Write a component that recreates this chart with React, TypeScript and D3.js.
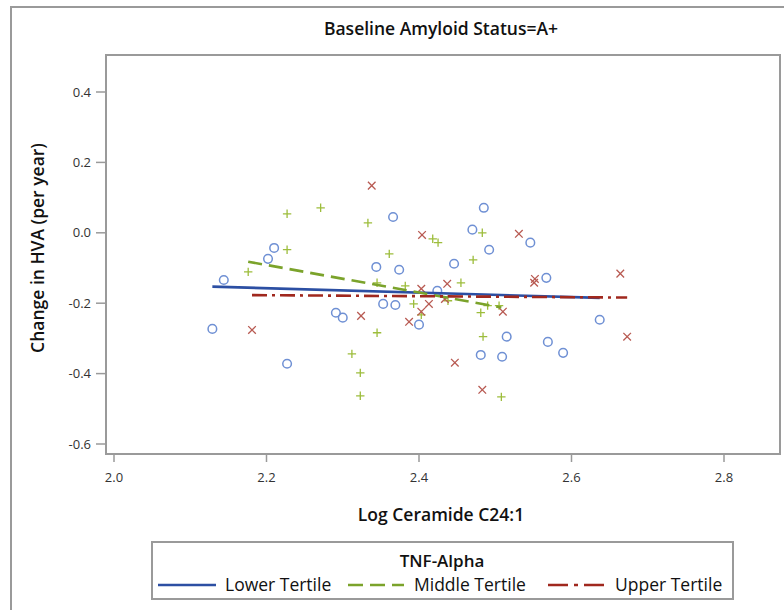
import React from "react";
import * as d3 from "d3";

// ---- Data ----
const lowerX = [2.129, 2.144, 2.202, 2.210, 2.227, 2.291, 2.300, 2.344, 2.353, 2.366, 2.369, 2.374, 2.400, 2.424, 2.446, 2.470, 2.481, 2.485, 2.492, 2.509, 2.515, 2.546, 2.567, 2.569, 2.589, 2.637];
const lowerY = [-0.273, -0.134, -0.074, -0.043, -0.372, -0.227, -0.241, -0.097, -0.202, 0.045, -0.205, -0.105, -0.261, -0.165, -0.088, 0.009, -0.347, 0.071, -0.048, -0.352, -0.295, -0.028, -0.128, -0.310, -0.341, -0.247];

const middleX = [2.176, 2.227, 2.227, 2.271, 2.333, 2.361, 2.345, 2.382, 2.393, 2.403, 2.418, 2.425, 2.345, 2.312, 2.323, 2.323, 2.455, 2.471, 2.483, 2.490, 2.505, 2.481, 2.484, 2.508, 2.438];
const middleY = [-0.111, 0.054, -0.048, 0.071, 0.028, -0.060, -0.142, -0.151, -0.202, -0.233, -0.017, -0.028, -0.284, -0.344, -0.398, -0.463, -0.142, -0.077, 0.000, -0.207, -0.207, -0.227, -0.295, -0.466, -0.193];

const upperX = [2.181, 2.338, 2.404, 2.403, 2.437, 2.434, 2.413, 2.403, 2.324, 2.387, 2.447, 2.483, 2.510, 2.531, 2.552, 2.551, 2.664, 2.673];
const upperY = [-0.276, 0.134, -0.006, -0.159, -0.145, -0.188, -0.202, -0.224, -0.236, -0.253, -0.369, -0.446, -0.224, -0.003, -0.131, -0.142, -0.116, -0.295];

// fitted lines: value at the smallest and largest x of each group
const fitStartY = [-0.153, -0.082, -0.177];
const fitEndY = [-0.185, -0.212, -0.184];

const seriesNames = ["Lower Tertile", "Middle Tertile", "Upper Tertile"];
const xTicks = [2.0, 2.2, 2.4, 2.6, 2.8];
const yTicks = [-0.6, -0.4, -0.2, 0.0, 0.2, 0.4];

const titleText = "Baseline Amyloid Status=A+";
const xLabel = "Log Ceramide C24:1";
const yLabel = "Change in HVA (per year)";
const legendTitle = "TNF-Alpha";

// ---- Styles ----
const lineColors = ["#2C4FA3", "#7BA32B", "#A0281E"];
const markColors = ["#6F90D4", "#9DBD3C", "#B85A52"];
const dashes = [null, "14,7", "15,5,3,5"];
const legendDashes = [null, "15,7", "20,6,4,6"];
const FONT = "'Open Sans', sans-serif";
const frameColor = "#9a9a9a";

export default function App() {
  const W = 784, H = 610;
  const left = 106, right = 780, top = 55, bottom = 454;
  const x = d3.scaleLinear().domain([2.0, 2.8]).range([114, 724]);
  const y = d3.scaleLinear().domain([-0.6, 0.4]).range([444, 92]);

  const series = [
    { xs: lowerX, ys: lowerY },
    { xs: middleX, ys: middleY },
    { xs: upperX, ys: upperY },
  ];

  const line = d3.line<[number, number]>().x((d) => x(d[0])).y((d) => y(d[1]));

  const marker = (k: number, cx: number, cy: number, key: string) => {
    const c = markColors[k];
    if (k === 0) return <circle key={key} cx={cx} cy={cy} r={4.3} fill="none" stroke={c} strokeWidth={1.5} />;
    if (k === 1) {
      const s = 4.2;
      return (
        <path key={key} d={`M${cx - s},${cy}H${cx + s}M${cx},${cy - s}V${cy + s}`} stroke={c} strokeWidth={1.3} fill="none" />
      );
    }
    const s = 3.8;
    return (
      <path key={key} d={`M${cx - s},${cy - s}L${cx + s},${cy + s}M${cx - s},${cy + s}L${cx + s},${cy - s}`} stroke={c} strokeWidth={1.3} fill="none" />
    );
  };

  const legendItems = [
    { x0: 158, x1: 216, tx: 225 },
    { x0: 348, x1: 404, tx: 414 },
    { x0: 548, x1: 604, tx: 615 },
  ];

  return (
    <svg width={W} height={H} style={{ position: "absolute", left: 0, top: 0, background: "#fff" }} fontFamily={FONT}>
      <rect x={0} y={0} width={W} height={H} fill="#fff" />
      {/* outer border lines */}
      <path d={`M11,${H}V7H${W}`} fill="none" stroke={frameColor} strokeWidth={2} />

      {/* title */}
      <text x={441} y={35} textAnchor="middle" fontWeight={600} fontSize={17.5} fill="#111">{titleText}</text>

      {/* plot frame */}
      <rect x={left} y={top} width={right - left} height={bottom - top} fill="none" stroke={frameColor} strokeWidth={2} />

      {/* y ticks */}
      {yTicks.map((t) => (
        <g key={"y" + t}>
          <line x1={96} x2={left} y1={y(t)} y2={y(t)} stroke={frameColor} strokeWidth={1.5} />
          <text x={91} y={y(t)} dy="0.35em" textAnchor="end" fontSize={13} fill="#333">{t.toFixed(1)}</text>
        </g>
      ))}
      {/* x ticks */}
      {xTicks.map((t) => (
        <g key={"x" + t}>
          <line x1={x(t)} x2={x(t)} y1={bottom} y2={bottom + 8} stroke={frameColor} strokeWidth={1.5} />
          <text x={x(t)} y={482} textAnchor="middle" fontSize={13} fill="#333">{t.toFixed(1)}</text>
        </g>
      ))}

      {/* axis labels */}
      <text x={441} y={521} textAnchor="middle" fontWeight={600} fontSize={17.5} fill="#111">{xLabel}</text>
      <text transform={`translate(44,248) rotate(-90)`} textAnchor="middle" fontWeight={600} fontSize={17.5} fill="#111">{yLabel}</text>

      {/* markers */}
      {series.map((s, k) => s.xs.map((xv, i) => marker(k, x(xv), y(s.ys[i]), `m${k}-${i}`)))}

      {/* fit lines */}
      {series.map((s, k) => {
        const x0 = d3.min(s.xs) as number;
        const x1 = d3.max(s.xs) as number;
        return (
          <path key={"f" + k} d={line([[x0, fitStartY[k]], [x1, fitEndY[k]]]) || ""} stroke={lineColors[k]} strokeWidth={2.6}
            strokeDasharray={dashes[k] || undefined} fill="none" />
        );
      })}

      {/* legend */}
      <rect x={152} y={542} width={581} height={57} fill="none" stroke={frameColor} strokeWidth={2} />
      <text x={442} y={567} textAnchor="middle" fontWeight={600} fontSize={17} fill="#111">{legendTitle}</text>
      {legendItems.map((it, k) => (
        <g key={"l" + k}>
          <line x1={it.x0} x2={it.x1} y1={585} y2={585} stroke={lineColors[k]} strokeWidth={2.6} strokeDasharray={legendDashes[k] || undefined} />
          <text x={it.tx} y={591} fontSize={17.5} fill="#111">{seriesNames[k]}</text>
        </g>
      ))}
    </svg>
  );
}
